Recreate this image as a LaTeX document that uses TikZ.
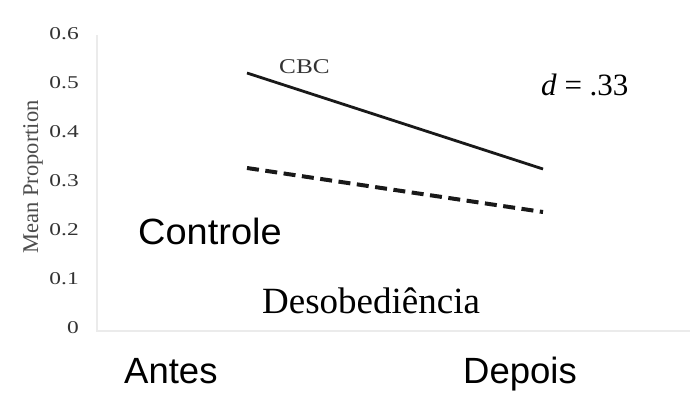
\documentclass[tikz,border=0pt]{standalone}
\usepackage{fontspec}
\setmainfont{Liberation Serif}
\newfontfamily\arialfont{Liberation Sans}
\begin{document}
\begin{tikzpicture}[x=1pt,y=-1pt,
  tick/.style={anchor=base east,inner sep=0pt,text=black!80,font=\fontsize{18}{18}\selectfont,xscale=1.3},
  big/.style={anchor=base west,inner sep=0pt,font=\arialfont\fontsize{36.5}{36.5}\selectfont},
  serifbig/.style={anchor=base west,inner sep=0pt,font=\fontsize{37}{37}\selectfont},
  axisline/.style={draw=black!8,line width=1.5pt},
  cbcline/.style={draw=black!90,line width=2.8pt},
  ctrlline/.style={draw=black!90,line width=4pt,dash pattern=on 12pt off 6.5pt}]
\useasboundingbox (0,0) rectangle (695,394);
\fill[white] (0,0) rectangle (695,394);
% axes
\coordinate (ytop) at (97,35);
\coordinate (orig) at (97,331);
\coordinate (xend) at (690,331);
\draw[axisline] (ytop) -- (orig) -- (xend);
% tick labels
\node[tick] (t6) at (79,39) {0.6};
\node[tick] (t5) at (79,88) {0.5};
\node[tick] (t4) at (79,137) {0.4};
\node[tick] (t3) at (79,186) {0.3};
\node[tick] (t2) at (79,235) {0.2};
\node[tick] (t1) at (79,284) {0.1};
\node[tick] (t0) at (79,333) {0};
\node[rotate=90,inner sep=0pt,text=black!70,font=\fontsize{22.5}{22.5}\selectfont] (ylab) at (33,177) {Mean Proportion};
% data lines
\coordinate (cbcA) at (247,73);
\coordinate (cbcB) at (543,169);
\coordinate (ctlA) at (247,168);
\coordinate (ctlB) at (543,212);
\draw[cbcline] (cbcA) -- (cbcB);
\draw[ctrlline] (ctlA) -- (ctlB);
% labels
\node[anchor=base west,inner sep=0pt,text=black!80,font=\fontsize{21}{21}\selectfont,xscale=1.2] (cbc) at (279,73) {CBC};
\node[anchor=base west,inner sep=0pt,font=\fontsize{31}{31}\selectfont] (dval) at (541,95) {\textit{d} = .33};
\node[big,xscale=1.04] (ctrl) at (138,244) {Controle};
\node[serifbig] (deso) at (262,313) {Desobediência};
\node[big] (antes) at (124,383) {Antes};
\node[big] (depois) at (463,383) {Depois};
\end{tikzpicture}
\end{document}
